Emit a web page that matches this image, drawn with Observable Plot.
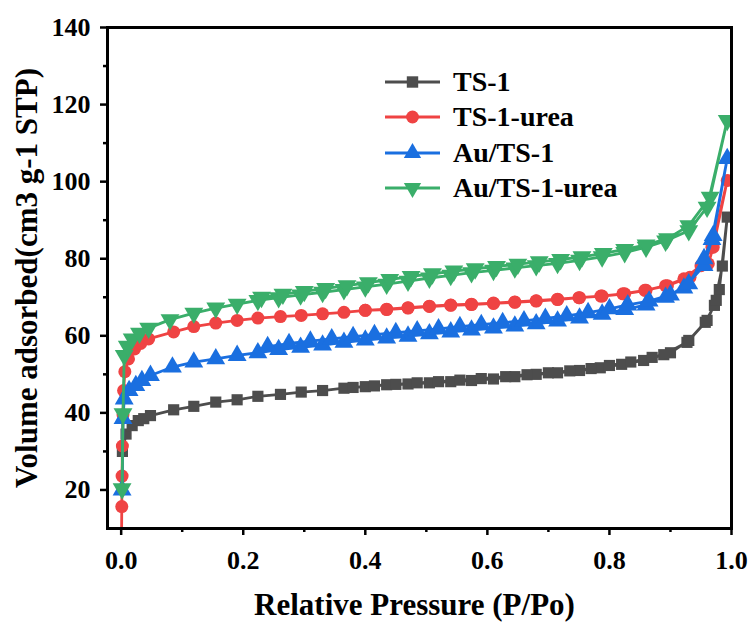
<!DOCTYPE html>
<html><head><meta charset="utf-8">
<script src="https://cdn.jsdelivr.net/npm/d3@7"></script>
<script src="https://cdn.jsdelivr.net/npm/@observablehq/plot@0.6"></script>
<style>
html,body{margin:0;padding:0;background:#fff;}
#wrap{position:relative;width:754px;height:626px;font-family:'Liberation Serif','Times New Roman',serif;font-weight:bold;}
#legend{position:absolute;left:385px;top:64px;}
.row{display:flex;align-items:center;height:35.5px;font-size:28px;color:#000;}
.row svg{margin-right:13px;}
</style>
</head><body><div id="wrap"><div id="legend"></div></div>
<script>
// Series names and colours
const seriesNames = ["TS-1", "TS-1-urea", "Au/TS-1", "Au/TS-1-urea"];
const seriesColors = ["#4d4d4d", "#ef4343", "#1a6fe0", "#3aae6a"];
const seriesSymbols = ["square", "circle", "triangle", "triangle"];

// TS-1 (adsorption then desorption)
const P_TS1 = [0.002,0.008,0.018,0.028,0.037,0.048,0.086,0.119,0.155,0.19,0.224,0.261,0.295,0.33,0.365,0.40,0.435,0.47,0.505,0.54,0.574,0.61,0.645,0.68,0.715,0.751,0.785,0.82,0.856,0.889,0.927,0.957,0.972,0.985,0.993,
  0.98,0.975,0.96,0.93,0.90,0.87,0.835,0.80,0.77,0.735,0.70,0.665,0.63,0.59,0.555,0.52,0.485,0.45,0.415,0.38];
const V_TS1 = [30.0,34.5,36.7,38.0,38.5,39.3,40.8,41.7,42.8,43.4,44.3,44.8,45.4,45.8,46.4,46.8,47.3,47.5,47.8,48.1,48.4,48.8,49.4,50.0,50.4,51.0,51.7,52.6,53.6,55.1,58.3,63.5,67.9,78.1,90.8,
  72.0,69.2,64.0,58.8,55.6,54.4,53.2,52.3,51.5,50.9,50.4,49.9,49.4,48.9,48.5,48.1,47.8,47.4,47.0,46.6];

// TS-1-urea
const P_TS1U = [0.0005,0.001,0.0015,0.002,0.003,0.004,0.006,0.012,0.022,0.032,0.045,0.086,0.119,0.155,0.19,0.224,0.261,0.295,0.33,0.365,0.40,0.435,0.47,0.505,0.54,0.574,0.61,0.645,0.68,0.715,0.751,0.788,0.825,0.86,0.892,0.922,0.95,0.968,0.993,
  0.97,0.962,0.932,0.895,0.858,0.822,0.786,0.75,0.715,0.68,0.645,0.61,0.574,0.54,0.505,0.47,0.435,0.40];
const V_TS1U = [5,15.7,23.6,31.4,39.5,45.8,50.7,54.0,56.6,58.0,59.2,61.0,62.4,63.3,64.0,64.6,65.0,65.3,65.7,66.1,66.6,66.8,67.2,67.6,67.9,68.1,68.4,68.7,69.0,69.4,69.9,70.3,70.9,71.8,73.0,74.8,78.2,83.0,100.3,
  83.0,78.7,75.2,73.0,71.8,70.9,70.3,69.9,69.5,69.1,68.8,68.5,68.2,68.0,67.7,67.3,66.9,66.6];

// Au/TS-1
const P_AU = [0.0015,0.003,0.005,0.013,0.024,0.034,0.048,0.084,0.119,0.155,0.19,0.224,0.258,0.294,0.33,0.365,0.40,0.435,0.47,0.505,0.54,0.574,0.61,0.645,0.68,0.715,0.751,0.788,0.825,0.86,0.892,0.922,0.955,0.968,0.993,
  0.97,0.955,0.93,0.90,0.865,0.83,0.80,0.765,0.73,0.695,0.66,0.625,0.59,0.555,0.52,0.485,0.45,0.415,0.38,0.345,0.31,0.275,0.24];
const V_AU = [20.0,38.5,43.6,45.8,47.1,48.4,49.7,51.9,53.2,54.0,54.9,55.6,56.4,57.0,57.6,58.3,58.9,59.4,59.9,60.5,61.0,61.5,62.0,62.5,63.1,63.8,64.6,65.6,66.8,68.0,70.0,72.4,78.2,85.0,106.0,
  86.0,80.0,73.5,70.6,69.0,68.0,67.0,66.0,65.2,64.5,63.9,63.4,62.9,62.4,61.8,61.3,60.8,60.3,59.8,59.2,58.6,58.0,57.2];

// Au/TS-1-urea
const P_AUU = [0.0015,0.003,0.005,0.01,0.018,0.03,0.045,0.08,0.119,0.155,0.19,0.224,0.258,0.294,0.33,0.365,0.40,0.435,0.47,0.505,0.54,0.574,0.61,0.645,0.68,0.715,0.751,0.788,0.825,0.86,0.892,0.93,0.96,0.993,
  0.965,0.93,0.895,0.86,0.825,0.79,0.755,0.72,0.685,0.65,0.615,0.58,0.545,0.51,0.475,0.44,0.405,0.37,0.335,0.30,0.265,0.23];
const V_AUU = [20.3,39.8,54.9,57.3,59.2,60.7,62.0,64.2,65.9,67.2,68.2,69.2,69.9,70.6,71.3,72.0,72.7,73.4,74.2,75.0,75.7,76.4,77.0,77.6,78.2,78.8,79.6,80.5,81.6,83.0,84.6,87.3,93.4,115.9,
  96.0,88.6,85.2,83.6,82.4,81.4,80.5,79.8,79.2,78.6,78.0,77.4,76.8,76.1,75.4,74.6,73.8,73.0,72.3,71.5,70.8,70.0];

// Axis ticks
const xTicks = [0, 0.2, 0.4, 0.6, 0.8, 1.0];
const xMinor = [0.1, 0.3, 0.5, 0.7, 0.9];
const yTicks = [20, 40, 60, 80, 100, 120, 140];
const yMinor = [30, 50, 70, 90, 110, 130];
const xTitle = "Relative Pressure (P/Po)";
const yTitle = "Volume adsorbed(cm3 g-1 STP)";

const allP = [P_TS1, P_TS1U, P_AU, P_AUU];
const allV = [V_TS1, V_TS1U, V_AU, V_AUU];
const series = allP.map((ps, i) => ps.map((p, j) => ({p, v: allV[i][j], s: i})));

const FONT = "Liberation Serif, Times New Roman, serif";
const markerR = [6.3, 6.5, 7, 7];
const marks = [];
series.forEach((data, i) => {
  marks.push(Plot.line(data, {x: "p", y: "v", stroke: seriesColors[i], strokeWidth: 2.8, clip: true}));
  marks.push(Plot.dot(data, {x: "p", y: "v", fill: seriesColors[i], stroke: "none",
    symbol: seriesSymbols[i], r: markerR[i], rotate: i === 3 ? 180 : 0, clip: true}));
});

marks.push(
  Plot.axisX(xTicks, {tickSize: 7, strokeWidth: 2.5, tickPadding: 15, tickFormat: d3.format(".1f"), fontSize: 26, fontWeight: "bold", fontFamily: FONT, label: null}),
  Plot.axisX(xMinor, {tickSize: 4, strokeWidth: 2.5, tickFormat: () => "", label: null}),
  Plot.axisY(yTicks, {tickSize: 7, strokeWidth: 2.5, tickPadding: 10, fontSize: 26, fontWeight: "bold", fontFamily: FONT, label: null}),
  Plot.axisY(yMinor, {tickSize: 4, strokeWidth: 2.5, tickFormat: () => "", label: null}),
  Plot.frame({stroke: "#000", strokeWidth: 3}),
  Plot.text([yTitle], {frameAnchor: "left", dx: -80, rotate: -90, textAnchor: "middle", lineAnchor: "middle", fontSize: 31, fontWeight: "bold", fontFamily: FONT, fill: "#000"}),
  Plot.text([xTitle], {frameAnchor: "bottom", dx: -5, dy: 77, textAnchor: "middle", lineAnchor: "middle", fontSize: 31, fontWeight: "bold", fontFamily: FONT, fill: "#000"})
);

const chart = Plot.plot({
  width: 754, height: 626,
  marginLeft: 107, marginRight: 23, marginTop: 27, marginBottom: 98,
  x: {domain: [-0.0224, 1.0]},
  y: {domain: [10, 140]},
  style: {fontFamily: FONT, fontWeight: "bold", color: "#000", background: "#fff"},
  marks
});
document.getElementById("wrap").prepend(chart);

// Legend
const leg = document.getElementById("legend");
seriesNames.forEach((name, i) => {
  const row = document.createElement("div");
  row.className = "row";
  const sw = d3.create("svg").attr("width", 55).attr("height", 20);
  sw.append("line").attr("x1", 0).attr("x2", 55).attr("y1", 10).attr("y2", 10)
    .attr("stroke", seriesColors[i]).attr("stroke-width", 3);
  const sym = {square: d3.symbolSquare, circle: d3.symbolCircle, triangle: d3.symbolTriangle}[seriesSymbols[i]];
  sw.append("path").attr("d", d3.symbol(sym, 130)())
    .attr("transform", `translate(27.5,10) rotate(${i === 3 ? 180 : 0})`).attr("fill", seriesColors[i]);
  row.appendChild(sw.node());
  const t = document.createElement("span");
  t.textContent = name;
  row.appendChild(t);
  leg.appendChild(row);
});
</script></body></html>
